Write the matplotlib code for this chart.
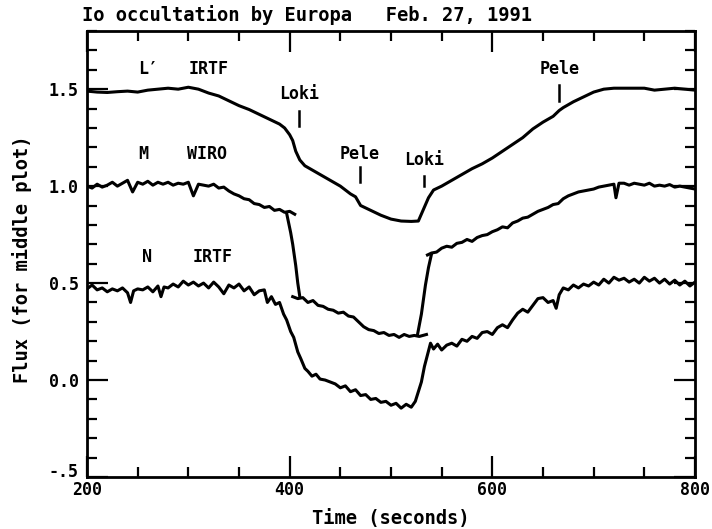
import matplotlib
matplotlib.use('Agg')
import matplotlib.pyplot as plt
import matplotlib.transforms as mtransforms
from matplotlib.ticker import MultipleLocator, FixedLocator

plt.rcParams['font.family'] = ['DejaVu Sans Mono']
plt.rcParams['font.weight'] = 'bold'

# L' IRTF (top curve)
l_t = [200, 210, 220, 230, 240, 250, 260, 270, 280, 290, 300, 305, 310, 320, 330, 340,
       350, 360, 370, 380, 390, 395, 400, 403, 406, 410, 415, 420, 430, 440, 450, 460,
       465, 470, 480, 490, 500, 510, 520, 527, 532, 537, 542, 550, 560, 570, 580, 590,
       600, 610, 620, 630, 640, 650, 660, 666, 670, 680, 690, 700, 710, 720, 730, 740,
       750, 760, 770, 780, 790, 800]
l_f = [1.49, 1.485, 1.483, 1.487, 1.49, 1.485, 1.495, 1.50, 1.505, 1.50, 1.51, 1.505, 1.50,
       1.48, 1.465, 1.44, 1.415, 1.395, 1.37, 1.345, 1.32, 1.30, 1.265, 1.235, 1.18, 1.135,
       1.105, 1.09, 1.06, 1.03, 1.0, 0.96, 0.945, 0.90, 0.875, 0.85, 0.83, 0.82, 0.818,
       0.82, 0.88, 0.94, 0.98, 1.0, 1.03, 1.06, 1.09, 1.115, 1.145, 1.18, 1.215, 1.25,
       1.295, 1.33, 1.36, 1.39, 1.405, 1.435, 1.46, 1.485, 1.50, 1.505, 1.505, 1.505,
       1.505, 1.495, 1.50, 1.505, 1.50, 1.495]

# M WIRO (middle curve), drawn in overlapping pieces
m1_t = [200, 205, 210, 215, 220, 225, 230, 235, 240, 245, 250, 255, 260, 265, 270, 275,
        280, 285, 290, 295, 300, 305, 310, 315, 320, 325, 330, 335, 340, 345, 350, 355,
        360, 365, 370, 375, 380, 385, 390, 395, 400, 405]
m1_f = [1.00, 0.99, 1.01, 0.995, 1.005, 1.02, 1.00, 1.015, 1.03, 0.97, 1.02, 1.01, 1.025,
        1.005, 1.02, 1.01, 1.02, 1.005, 1.015, 1.01, 1.02, 0.95, 1.01, 1.005, 1.0, 1.01,
        0.99, 0.995, 0.975, 0.96, 0.95, 0.935, 0.93, 0.91, 0.905, 0.89, 0.895, 0.875,
        0.88, 0.865, 0.87, 0.855]
m2_t = [397, 401, 403, 406, 408, 410]
m2_f = [0.86, 0.76, 0.70, 0.59, 0.50, 0.43]
m3_t = [403, 408, 413, 418, 423, 428, 433, 438, 443, 448, 453, 458, 463, 468, 473, 478,
        483, 488, 493, 498, 503, 508, 513, 518, 523, 528, 535]
m3_f = [0.43, 0.42, 0.425, 0.40, 0.41, 0.385, 0.38, 0.365, 0.36, 0.345, 0.35, 0.33, 0.325,
        0.30, 0.275, 0.26, 0.255, 0.24, 0.245, 0.23, 0.235, 0.22, 0.235, 0.225, 0.23,
        0.225, 0.235]
m4_t = [526, 530, 534, 537, 540]
m4_f = [0.23, 0.34, 0.49, 0.58, 0.65]
m5_t = [536, 540, 545, 550, 555, 560, 565, 570, 575, 580, 585, 590, 595, 600, 605, 610,
        615, 620, 625, 630, 635, 640, 645, 650, 655, 660, 665, 670, 675, 680, 685, 690,
        695, 700, 705, 710, 715, 720, 722, 725, 730, 735, 740, 745, 750, 755, 760, 765,
        770, 775, 780, 785, 790, 795, 800]
m5_f = [0.645, 0.655, 0.66, 0.68, 0.69, 0.685, 0.705, 0.71, 0.725, 0.715, 0.735, 0.745,
        0.75, 0.765, 0.775, 0.79, 0.785, 0.81, 0.82, 0.835, 0.84, 0.855, 0.87, 0.88, 0.89,
        0.905, 0.91, 0.935, 0.95, 0.96, 0.97, 0.975, 0.98, 0.985, 0.995, 1.0, 1.005, 1.01,
        0.94, 1.015, 1.015, 1.005, 1.015, 1.01, 1.005, 1.015, 1.0, 1.005, 1.0, 1.008,
        0.995, 1.0, 0.995, 0.99, 0.985]

# N IRTF (bottom curve)
n_t = [200, 205, 210, 215, 220, 225, 230, 235, 240, 243, 246, 250, 255, 260, 265, 270,
       273, 276, 280, 285, 290, 295, 300, 305, 310, 315, 320, 325, 330, 335, 340, 345,
       350, 355, 360, 365, 370, 375, 378, 382, 386, 390, 394, 397, 401, 404, 408, 411,
       415, 418, 422, 426, 430, 435, 440, 445, 450, 455, 460, 465, 470, 475, 480, 485,
       490, 495, 500, 505, 510, 515, 520, 524, 527, 530, 533, 536, 539, 542, 546, 550,
       555, 560, 565, 570, 575, 580, 585, 590, 595, 600, 605, 610, 615, 620, 625, 630,
       635, 640, 645, 650, 655, 660, 663, 666, 670, 675, 680, 685, 690, 695, 700, 705,
       710, 715, 720, 725, 730, 735, 740, 745, 750, 755, 760, 765, 770, 775, 780, 785,
       790, 795, 800]
n_f = [0.47, 0.49, 0.465, 0.475, 0.455, 0.47, 0.46, 0.475, 0.45, 0.40, 0.46, 0.47, 0.465,
       0.48, 0.455, 0.485, 0.43, 0.48, 0.475, 0.495, 0.48, 0.51, 0.49, 0.505, 0.485, 0.50,
       0.475, 0.505, 0.48, 0.445, 0.49, 0.475, 0.495, 0.46, 0.48, 0.44, 0.46, 0.465, 0.40,
       0.43, 0.39, 0.40, 0.34, 0.31, 0.25, 0.22, 0.145, 0.11, 0.06, 0.045, 0.02, 0.03,
       0.005, 0.0, -0.01, -0.02, -0.04, -0.03, -0.06, -0.05, -0.08, -0.075, -0.10, -0.095,
       -0.115, -0.11, -0.13, -0.12, -0.145, -0.125, -0.14, -0.11, -0.06, -0.01, 0.07, 0.13,
       0.19, 0.16, 0.185, 0.155, 0.18, 0.19, 0.175, 0.21, 0.20, 0.225, 0.215, 0.245, 0.25,
       0.235, 0.27, 0.285, 0.27, 0.31, 0.345, 0.365, 0.35, 0.385, 0.42, 0.425, 0.40, 0.41,
       0.37, 0.44, 0.475, 0.465, 0.49, 0.475, 0.495, 0.485, 0.505, 0.49, 0.52, 0.50, 0.53,
       0.515, 0.525, 0.505, 0.52, 0.50, 0.53, 0.51, 0.525, 0.50, 0.52, 0.495, 0.515, 0.49,
       0.51, 0.485, 0.505]

# feature markers: (label, time, tick bottom, tick top, text y)
feat_names = ['Loki', 'Pele', 'Loki', 'Pele']
feat_t = [409, 469, 533, 666]
feat_lo = [1.31, 1.02, 1.00, 1.44]
feat_hi = [1.39, 1.10, 1.05, 1.52]
feat_txt_y = [1.43, 1.12, 1.09, 1.56]

# curve labels
lab_names = ["L\u2032", 'IRTF', 'M', 'WIRO', 'N', 'IRTF']
lab_t = [250, 300, 251, 299, 254, 304]
lab_y = [1.56, 1.56, 1.12, 1.12, 0.59, 0.59]

fig = plt.figure(figsize=(7.12, 5.29), dpi=100)
ax = fig.add_axes([0.1222, 0.0983, 0.8539, 0.8431])

lw = 2.2
ax.plot(l_t, l_f, color='black', lw=lw)
for tt, ff in [(m1_t, m1_f), (m2_t, m2_f), (m3_t, m3_f), (m4_t, m4_f), (m5_t, m5_f)]:
    ax.plot(tt, ff, color='black', lw=lw)
ax.plot(n_t, n_f, color='black', lw=lw)

for name, t, lo, hi, ty in zip(feat_names, feat_t, feat_lo, feat_hi, feat_txt_y):
    ax.plot([t, t], [lo, hi], color='black', lw=1.8)
    ax.text(t, ty, name, ha='center', va='bottom', fontsize=12, fontweight='bold')

for name, t, y in zip(lab_names, lab_t, lab_y):
    ax.text(t, y, name, ha='left', va='bottom', fontsize=12, fontweight='bold')

ax.set_xlim(200, 800)
ax.set_ylim(-0.5, 1.8)
ax.xaxis.set_major_locator(FixedLocator([200, 400, 600, 800]))
ax.xaxis.set_minor_locator(MultipleLocator(50))
ax.yaxis.set_major_locator(FixedLocator([-0.5, 0.0, 0.5, 1.0, 1.5]))
ax.yaxis.set_minor_locator(MultipleLocator(0.1))
ax.set_xticklabels(['200', '400', '600', '800'])
ax.set_yticklabels(['-.5', '0.0', '0.5', '1.0', '1.5'])

ax.tick_params(which='both', direction='in', top=True, right=True, width=1.6)
ax.tick_params(which='major', length=15)
ax.tick_params(which='minor', length=7.5)
ax.tick_params(axis='x', which='major', pad=3, labelsize=12)
ax.tick_params(axis='y', which='major', pad=6, labelsize=12)
for sp in ax.spines.values():
    sp.set_linewidth(2.0)

# lift the "-.5" label a little so it sits above "200"
low_lab = ax.get_yticklabels()[0]
low_lab.set_transform(low_lab.get_transform() +
                      mtransforms.ScaledTranslation(0, 5 / 72, fig.dpi_scale_trans))

fig.text(0.115, 0.972, 'Io occultation by Europa   Feb. 27, 1991', ha='left', va='center',
         fontsize=13.5, fontweight='bold')
fig.text(0.031, 0.51, 'Flux (for middle plot)', rotation=90, ha='center', va='center',
         fontsize=13.5, fontweight='bold')
fig.text(0.549, 0.019, 'Time (seconds)', ha='center', va='center', fontsize=13.5,
         fontweight='bold')

fig.savefig('out.png', dpi=100)
